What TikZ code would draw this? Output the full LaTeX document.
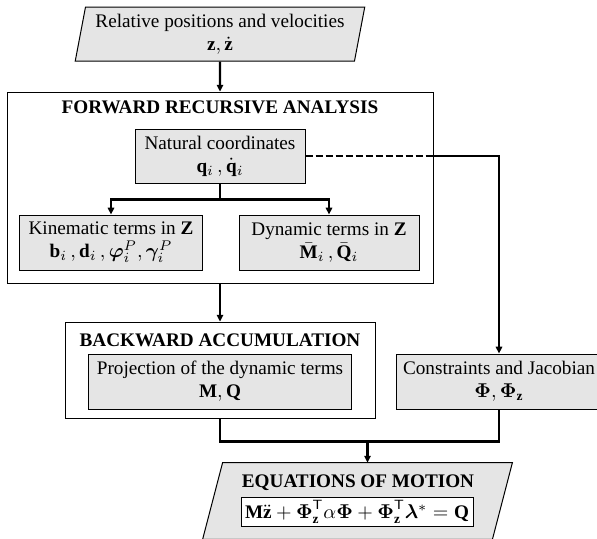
\documentclass[tikz,border=0pt]{standalone}
\usepackage{amsmath}
\usepackage{bm}
\usepackage{fontspec}
\setmainfont{Liberation Serif}
\usepackage{tikz}
\usetikzlibrary{
  arrows.meta, calc, positioning, shapes.geometric
}

\begin{document}
\begin{tikzpicture}[node distance=20pt,
  font=\fontsize{9.6}{11.5}\selectfont,
  box/.style={draw, rectangle, fill=gray!20, line width=0.5pt, align=center, inner sep=0pt},
  frame/.style={draw, rectangle, line width=0.4pt},
  slanted/.style={draw, trapezium, trapezium stretches=true, fill=gray!20, line width=0.5pt, align=center, inner sep=2pt},
  flow/.style={line width=1.2pt},
  arr/.style={flow, -{Triangle[length=3.4pt,width=3.2pt]}}
]
\useasboundingbox (-110pt,17pt) rectangle (188.5pt,-252pt);

\node (Rel) [slanted, trapezium left angle=78.5, trapezium right angle=101.5, minimum width=145pt, minimum height=27pt] {Relative positions and velocities\\ $\mathbf{z}, \dot{\mathbf{z}}$};
\node (Fra) [frame, below of=Rel, yshift=-56.75pt, minimum width=213pt, minimum height=95.5pt] {};
\node (FraTitle) [below of=Rel, yshift=-16.5pt] {\textbf{FORWARD RECURSIVE ANALYSIS}};
\node (Nat) [box, below of=FraTitle, yshift=-4.5pt, minimum width=85pt, minimum height=27pt] {Natural coordinates\\ $\mathbf{q}_i\,, \dot{\mathbf{q}}_i$};
\node (Kin) [box, below of=Nat, xshift=-54.5pt, yshift=-23.25pt, minimum width=91pt, minimum height=27.5pt] {Kinematic terms in $\mathbf{Z}$\\ $\mathbf{b}_i\,, \mathbf{d}_i\,, \bm{\varphi}_i^P, \bm{\gamma}_i^P$};
\node (Dyn) [box, right of=Kin, xshift=89pt, minimum width=90pt, minimum height=27.5pt] {Dynamic terms in $\mathbf{Z}$\\ $\bar{\mathbf{M}}_i\,, \bar{\mathbf{Q}}_i$};

\node (Ba) [frame, below of=Fra, yshift=-71.25pt, minimum width=155pt, minimum height=48pt] {};
\node (BaTitle) [above of=Ba, yshift=-5pt] {\textbf{BACKWARD ACCUMULATION}};
\node (Proj) [box, below of=BaTitle, yshift=-0.75pt, minimum width=131.5pt, minimum height=27.5pt] {Projection of the dynamic terms\\ $\mathbf{M}, \mathbf{Q}$};
\node (Con) [box, right of=Proj, xshift=119.5pt, minimum width=103pt, minimum height=27.5pt] {Constraints and Jacobian\\ $\bm{\Phi}, \bm{\Phi}_{\mathbf{z}}$};

% slanted box at the bottom, drawn from a plain node
\node (Eqm) [below of=Ba, xshift=68.75pt, yshift=-45.5pt, minimum width=154.5pt, minimum height=38pt, inner sep=0pt] {};
\filldraw[fill=gray!20, line width=0.5pt] ($(Eqm.north west)+(10pt,0)$) -- (Eqm.north east) -- ($(Eqm.south east)+(-10pt,0)$) -- (Eqm.south west) -- cycle;
\coordinate (EqmTop) at ($(Eqm.north)+(5pt,0)$);
\node (EqmTitle) [above of=Eqm, xshift=0.25pt, yshift=-11pt] {\textbf{EQUATIONS OF MOTION}};
\node (EqmBox) [draw, fill=white, line width=0.5pt, below of=EqmTitle, xshift=-0.5pt, yshift=5.5pt, minimum width=116pt, minimum height=14.5pt, inner sep=0pt] {$\mathbf{M}\ddot{\mathbf{z}} + \bm{\Phi}_{\mathbf{z}}^{\mathsf{T}}\alpha\bm{\Phi} + \bm{\Phi}_{\mathbf{z}}^{\mathsf{T}}\bm{\lambda}^{*} = \mathbf{Q}$};

\coordinate (Split) at ($(Nat.south)+(0,-8pt)$);
\coordinate (Exit) at (Nat.east -| Fra.east);
\coordinate (Merge) at ($(EqmTop)+(0,10.5pt)$);

\draw[arr] (Rel) -- (Fra);
\draw[arr] (Nat.south) -- (Split) -| (Kin.north);
\draw[arr] (Split) -| (Dyn.north);
\draw[flow, dash pattern=on 3.5pt off 1.5pt] (Nat.east) -- (Exit);
\draw[arr] (Exit) -| (Con.north);
\draw[arr] (Fra) -- (Ba);
\draw[flow] (Ba.south) |- (Merge);
\draw[flow] (Con.south) |- (Merge);
\draw[arr] (Merge) -- (EqmTop);
\end{tikzpicture}
\end{document}
